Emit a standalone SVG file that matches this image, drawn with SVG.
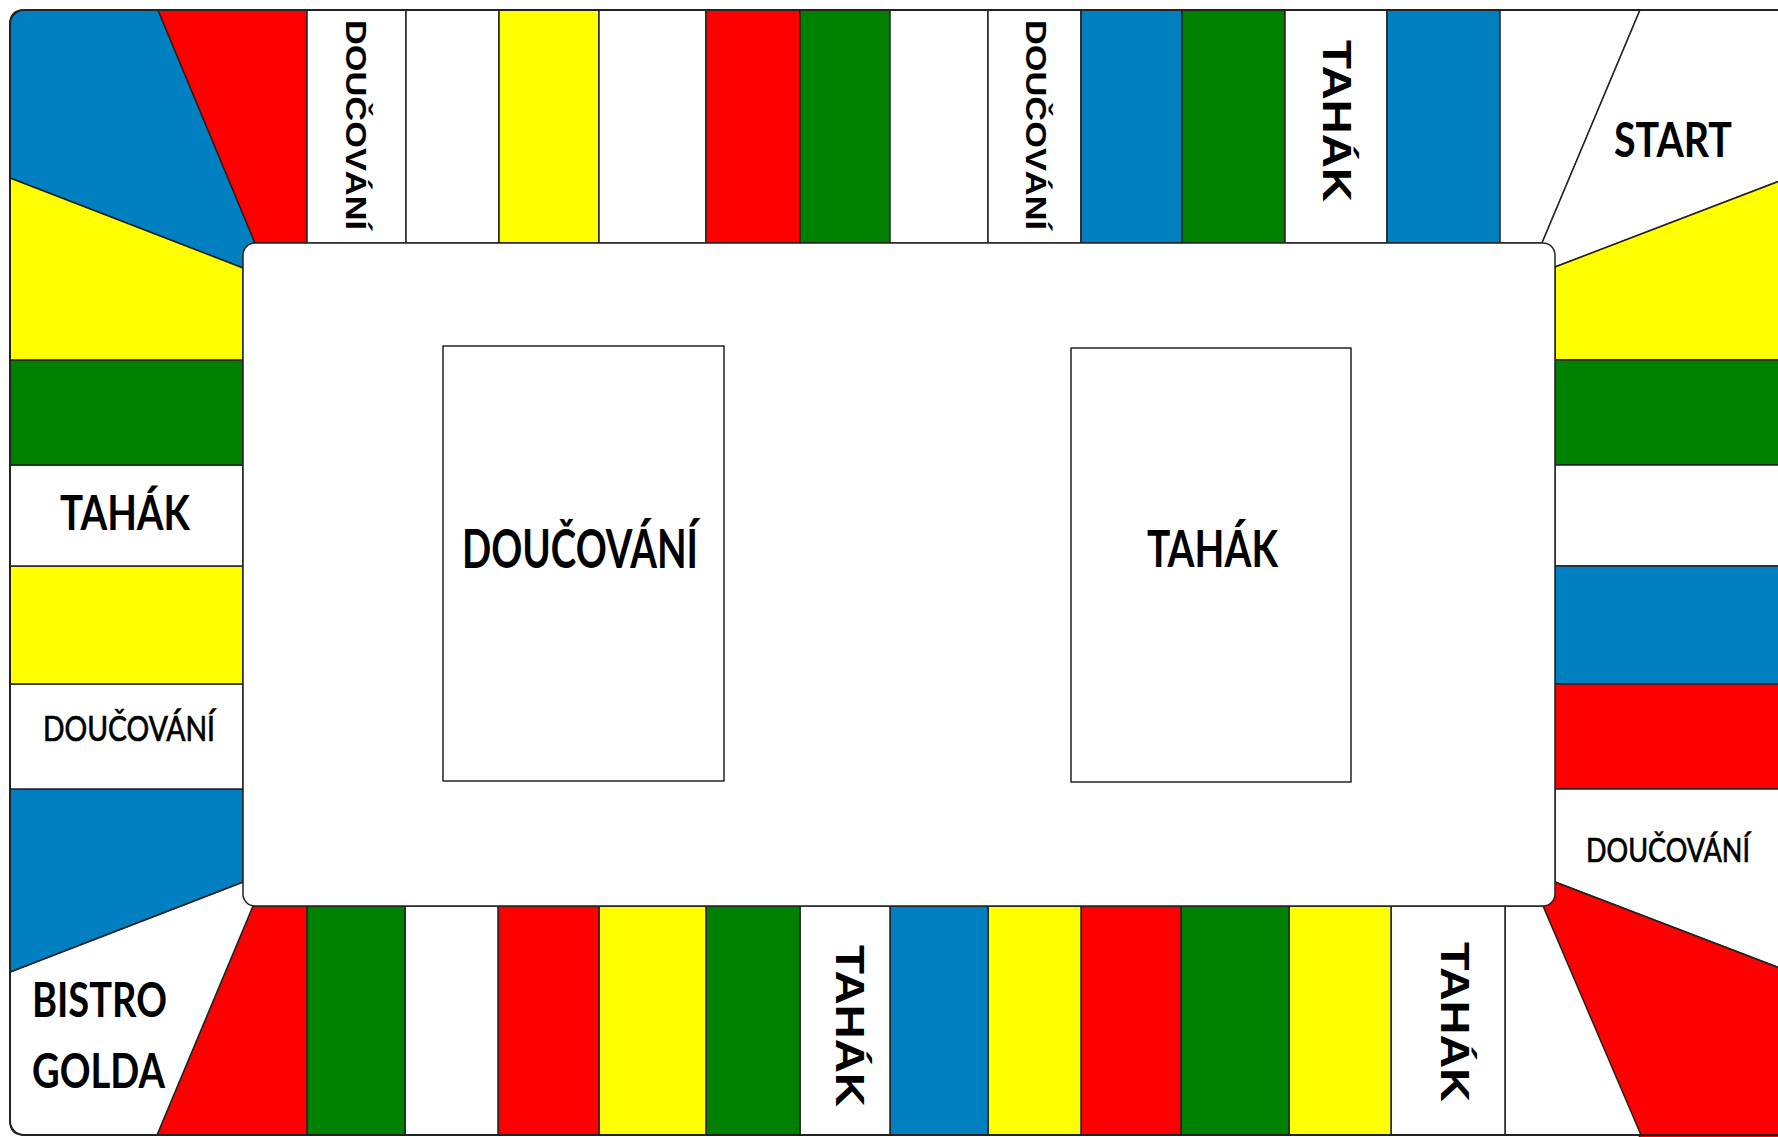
<svg xmlns="http://www.w3.org/2000/svg" width="1778" height="1137" viewBox="0 0 1778 1137">
<style>
.c{stroke:#222;stroke-width:1.5;stroke-linejoin:round}
.w{fill:#fff}.r{fill:#ff0000}.y{fill:#ffff00}.g{fill:#008000}.b{fill:#0080c0}
.h{font-family:Lato,"Liberation Sans",sans-serif;fill:#000;stroke:#000;stroke-width:0.7}
.hb{font-family:Lato,"Liberation Sans",sans-serif;font-weight:bold;fill:#000}
.v{font-family:"Liberation Sans",Arial,sans-serif;font-weight:bold;fill:#000}
</style>
<rect x="0" y="0" width="1778" height="1137" fill="#fff"/>
<rect id="board" x="10" y="10" width="1800" height="1125" rx="14" fill="#fff"/>

<!-- top-left corner -->
<g id="corner-tl"><path class="c b" d="M24,10 L158,10 L255,243 L243,268 L10,178 L10,24 Q10,10 24,10 Z"/></g>
<g id="t01"><polygon class="c r" points="158,10 307,10 307,243 255,243"/></g>
<g id="t02"><rect class="c w" x="307" y="10" width="99" height="233"/><text class="v" font-size="30" transform="translate(346,20) rotate(90)" textLength="210" lengthAdjust="spacingAndGlyphs">DOUČOVÁNÍ</text></g>
<g id="t03"><rect class="c w" x="406" y="10" width="93" height="233"/></g>
<g id="t04"><rect class="c y" x="499" y="10" width="100" height="233"/></g>
<g id="t05"><rect class="c w" x="599" y="10" width="107" height="233"/></g>
<g id="t06"><rect class="c r" x="706" y="10" width="94" height="233"/></g>
<g id="t07"><rect class="c g" x="800" y="10" width="90" height="233"/></g>
<g id="t08"><rect class="c w" x="890" y="10" width="98" height="233"/></g>
<g id="t09"><rect class="c w" x="988" y="10" width="93" height="233"/><text class="v" font-size="30" transform="translate(1026,20) rotate(90)" textLength="210" lengthAdjust="spacingAndGlyphs">DOUČOVÁNÍ</text></g>
<g id="t10"><rect class="c b" x="1081" y="10" width="101" height="233"/></g>
<g id="t11"><rect class="c g" x="1182" y="10" width="103" height="233"/></g>
<g id="t12"><rect class="c w" x="1285" y="10" width="102" height="233"/><text class="v" font-size="40" transform="translate(1323,40) rotate(90)" textLength="162" lengthAdjust="spacingAndGlyphs">TAHÁK</text></g>
<g id="t13"><rect class="c b" x="1387" y="10" width="113" height="233"/></g>
<g id="t14"><polygon class="c w" points="1500,10 1640,10 1542,243 1500,243"/></g>
<g id="corner-tr"><polygon class="c w" points="1640,10 1790,10 1790,177 1555,267 1542,243"/><text class="hb" x="1614" y="157" font-size="48" textLength="118" lengthAdjust="spacingAndGlyphs">START</text></g>

<!-- right column -->
<g id="r01"><polygon class="c y" points="1555,267 1790,177 1790,360 1555,360"/></g>
<g id="r02"><rect class="c g" x="1555" y="360" width="235" height="105"/></g>
<g id="r03"><rect class="c w" x="1555" y="465" width="235" height="101"/></g>
<g id="r04"><rect class="c b" x="1555" y="566" width="235" height="118"/></g>
<g id="r05"><rect class="c r" x="1555" y="684" width="235" height="105"/></g>
<g id="r06"><polygon class="c w" points="1555,789 1790,789 1790,972 1555,882"/><text class="h" x="1586" y="862" font-size="33" textLength="164" lengthAdjust="spacingAndGlyphs">DOUČOVÁNÍ</text></g>
<g id="corner-br"><polygon class="c r" points="1555,882 1790,972 1790,1140 1641,1140 1543,906"/></g>

<!-- bottom row -->
<g id="b14"><polygon class="c w" points="1505,906 1543,906 1641,1135 1505,1135"/></g>
<g id="b13"><rect class="c w" x="1391" y="906" width="114" height="229"/><text class="v" font-size="40" transform="translate(1441,942) rotate(90)" textLength="160" lengthAdjust="spacingAndGlyphs">TAHÁK</text></g>
<g id="b12"><rect class="c y" x="1289" y="906" width="102" height="229"/></g>
<g id="b11"><rect class="c g" x="1181" y="906" width="108" height="229"/></g>
<g id="b10"><rect class="c r" x="1081" y="906" width="100" height="229"/></g>
<g id="b09"><rect class="c y" x="988" y="906" width="93" height="229"/></g>
<g id="b08"><rect class="c b" x="890" y="906" width="98" height="229"/></g>
<g id="b07"><rect class="c w" x="800" y="906" width="90" height="229"/><text class="v" font-size="40" transform="translate(836,945) rotate(90)" textLength="162" lengthAdjust="spacingAndGlyphs">TAHÁK</text></g>
<g id="b06"><rect class="c g" x="706" y="906" width="94" height="229"/></g>
<g id="b05"><rect class="c y" x="599" y="906" width="107" height="229"/></g>
<g id="b04"><rect class="c r" x="498" y="906" width="101" height="229"/></g>
<g id="b03"><rect class="c w" x="405" y="906" width="93" height="229"/></g>
<g id="b02"><rect class="c g" x="307" y="906" width="98" height="229"/></g>
<g id="b01"><polygon class="c r" points="253,906 307,906 307,1135 157,1135"/></g>
<g id="corner-bl"><path class="c w" d="M10,972 L243,882 L253,906 L157,1135 L24,1135 Q10,1135 10,1121 Z"/><text class="hb" x="32" y="1017" font-size="47" textLength="135" lengthAdjust="spacingAndGlyphs">BISTRO</text><text class="hb" x="32" y="1088" font-size="47" textLength="133" lengthAdjust="spacingAndGlyphs">GOLDA</text></g>

<!-- left column -->
<g id="l06"><polygon class="c b" points="10,789 243,789 243,882 10,972"/></g>
<g id="l05"><rect class="c w" x="10" y="684" width="233" height="105"/><text class="h" x="43" y="741" font-size="34" textLength="172" lengthAdjust="spacingAndGlyphs">DOUČOVÁNÍ</text></g>
<g id="l04"><rect class="c y" x="10" y="566" width="233" height="118"/></g>
<g id="l03"><rect class="c w" x="10" y="465" width="233" height="101"/><text class="hb" x="60" y="530" font-size="48" textLength="130" lengthAdjust="spacingAndGlyphs">TAHÁK</text></g>
<g id="l02"><rect class="c g" x="10" y="360" width="233" height="105"/></g>
<g id="l01"><polygon class="c y" points="10,178 243,268 243,360 10,360"/></g>

<!-- outer border -->
<rect x="10" y="10" width="1800" height="1125" rx="14" fill="none" stroke="#222" stroke-width="2"/>

<!-- centre -->
<g id="centre"><rect class="c w" x="243" y="243" width="1312" height="663" rx="12"/></g>
<g id="card-doucovani"><rect class="c w" x="443" y="346" width="281" height="435"/><text class="hb" x="462" y="568" font-size="54" textLength="236" lengthAdjust="spacingAndGlyphs">DOUČOVÁNÍ</text></g>
<g id="card-tahak"><rect class="c w" x="1071" y="348" width="280" height="434"/><text class="hb" x="1147" y="567" font-size="52" textLength="131" lengthAdjust="spacingAndGlyphs">TAHÁK</text></g>
</svg>
